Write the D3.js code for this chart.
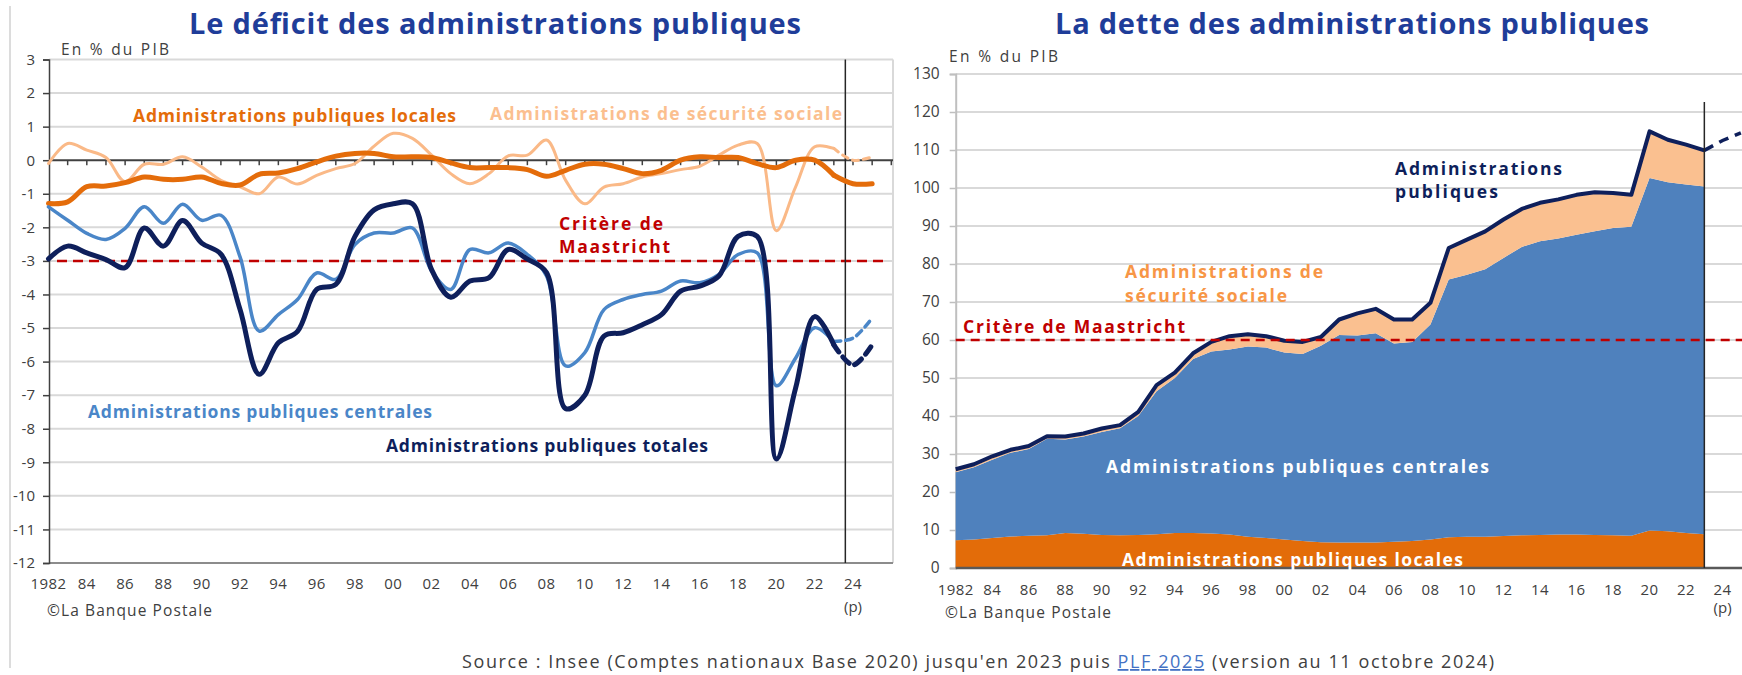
<!DOCTYPE html>
<html><head><meta charset="utf-8">
<script src="https://cdn.jsdelivr.net/npm/d3@7"></script>
<style>
body{margin:0;background:#fff;}
text{font-family:'Open Sans',sans-serif;}
</style>
</head><body>
<svg id="c" width="1742" height="675"></svg>
<script>
// ---------- DATA ----------
const years = d3.range(1982, 2024); // 1982..2023
const deficitTotal = [-2.94,-2.56,-2.76,-2.96,-3.2,-2.02,-2.56,-1.8,-2.47,-2.8,-4.45,-6.38,-5.44,-5.1,-3.85,-3.7,-2.27,-1.48,-1.3,-1.3,-3.26,-4.08,-3.6,-3.5,-2.66,-2.95,-3.35,-7.4,-7.0,-5.24,-5.14,-4.9,-4.6,-3.9,-3.75,-3.45,-2.27,-2.27,-8.9,-6.8,-4.66,-5.5];
const deficitCentrales = [-1.39,-1.79,-2.18,-2.36,-2.03,-1.39,-1.88,-1.31,-1.79,-1.64,-2.88,-5.09,-4.6,-4.15,-3.36,-3.55,-2.51,-2.17,-2.17,-2.02,-3.3,-3.85,-2.66,-2.76,-2.47,-2.81,-3.45,-6.13,-5.73,-4.45,-4.15,-4.0,-3.9,-3.6,-3.65,-3.4,-2.81,-2.76,-6.72,-5.9,-4.99,-5.4];
const deficitLocales = [-1.29,-1.24,-0.79,-0.77,-0.67,-0.5,-0.57,-0.57,-0.5,-0.69,-0.74,-0.42,-0.38,-0.25,-0.05,0.12,0.2,0.2,0.1,0.1,0.08,-0.08,-0.22,-0.22,-0.22,-0.28,-0.48,-0.3,-0.12,-0.12,-0.25,-0.4,-0.3,0.0,0.1,0.08,0.08,-0.1,-0.22,0.0,0.0,-0.45];
const deficitSecu = [-0.1,0.5,0.3,0.08,-0.64,-0.12,-0.12,0.1,-0.2,-0.6,-0.79,-1.0,-0.5,-0.71,-0.45,-0.25,-0.1,0.42,0.8,0.65,0.15,-0.4,-0.7,-0.4,0.13,0.15,0.6,-0.6,-1.3,-0.8,-0.7,-0.5,-0.4,-0.28,-0.18,0.15,0.45,0.5,-2.1,-0.8,0.4,0.35];

const projYears = [2023, 2024, 2025];
const projDeficitTotal = [-5.5, -6.1, -5.5];
const projDeficitCentrales = [-5.4, -5.3, -4.7];
const projDeficitLocales = [-0.45, -0.7, -0.7];
const projDeficitSecu = [0.35, 0.0, 0.1];

const detteLocales = [7.3,7.5,7.9,8.3,8.5,8.6,9.2,9.0,8.7,8.6,8.7,8.9,9.2,9.2,9.1,8.8,8.2,7.9,7.5,7.1,6.8,6.7,6.7,6.7,6.9,7.1,7.5,8.1,8.2,8.2,8.4,8.6,8.7,8.8,8.8,8.7,8.6,8.5,9.9,9.7,9.2,8.9];
const detteCentrales = [17.9,19.0,20.6,22.0,22.8,25.4,24.6,25.6,27.1,28.2,31.3,37.6,40.8,45.8,47.9,48.7,50.1,50.1,49.2,49.2,51.7,54.6,54.5,55.1,52.2,52.4,56.6,67.8,69.0,70.4,73.2,75.9,77.3,77.9,78.9,79.9,80.9,81.3,92.7,91.8,91.7,91.5];
const detteSecu = [0.8,0.8,0.9,0.8,0.8,0.7,0.8,0.8,0.9,0.8,1.1,1.6,1.4,1.5,2.5,3.5,3.2,3.0,3.1,3.2,2.3,4.1,5.8,6.4,6.3,5.9,5.7,8.3,9.2,10.0,10.1,10.0,10.1,10.3,10.5,10.3,9.2,8.4,12.3,11.2,10.5,9.5];
const projDetteTotal = [109.9, 112.5, 114.5];

const deficitTicks = d3.range(-12, 4, 1);
const detteTicks = d3.range(0, 131, 10);
const xTickYears = d3.range(1982, 2025, 2);
const xTickLabels = ["1982","84","86","88","90","92","94","96","98","00","02","04","06","08","10","12","14","16","18","20","22","24"];
const maastrichtDeficit = -3;
const maastrichtDette = 60;

// ---------- COLORS ----------
const C = {navy:"#0e1f5b", blue:"#4a86c8", orange:"#e46c0a", light:"#fab987",
  areaBlue:"#4f81bd", areaOrange:"#e36c09", areaLight:"#fac090", red:"#c00000",
  title:"#1f3d99", grid:"#d9d9d9", text:"#404040"};

const svg = d3.select("#c");

function fit(sel, w){ return sel.attr("textLength", w).attr("lengthAdjust","spacing"); }

svg.append("line").attr("x1",10).attr("x2",10).attr("y1",6).attr("y2",668)
  .attr("stroke","#d0d0d0").attr("stroke-width",1.5);

// ================= LEFT CHART =================
{
  const g = svg.append("g");
  const x = d3.scaleLinear().domain([1982, 2024]).range([48.5, 853]);
  const y = d3.scaleLinear().domain([-12, 3]).range([563, 59.5]);
  const xL = 49, xR = 893;

  fit(g.append("text").attr("x", 189).attr("y", 34)
    .attr("font-size",29).attr("font-weight",700).attr("fill",C.title)
    .text("Le déficit des administrations publiques"), 612);
  fit(g.append("text").attr("x",61).attr("y",55).attr("font-size",15.5).attr("fill",C.text).text("En % du PIB"), 108);

  g.selectAll(".gl").data(deficitTicks.filter(d=>d!==0 && d!==-12)).join("line")
    .attr("x1",xL).attr("x2",xR).attr("y1",d=>y(d)).attr("y2",d=>y(d))
    .attr("stroke",C.grid).attr("stroke-width",2);
  g.append("line").attr("x1",xR).attr("x2",xR).attr("y1",y(3)).attr("y2",y(-12))
    .attr("stroke",C.grid).attr("stroke-width",2);
  g.append("line").attr("x1",xL).attr("x2",xR).attr("y1",y(-12)).attr("y2",y(-12))
    .attr("stroke","#8c8c8c").attr("stroke-width",2);
  const ya = d3.axisLeft(y).tickValues(deficitTicks).tickSize(6).tickFormat(d=>String(d));
  const yag = g.append("g").attr("transform",`translate(${xL},0)`).call(ya);
  yag.select(".domain").attr("stroke","#404040").attr("stroke-width",1.5);
  yag.selectAll(".tick line").attr("stroke","#404040").attr("stroke-width",1.5);
  yag.selectAll(".tick text").attr("font-size",15).attr("fill",C.text)
    .attr("font-family","'Open Sans',sans-serif").attr("x",-14);

  g.append("line").attr("x1",xL).attr("x2",xR).attr("y1",y(0)).attr("y2",y(0))
    .attr("stroke","#404040").attr("stroke-width",2);
  g.selectAll(".zt").data(d3.range(1983, 2027)).join("line")
    .attr("x1",d=>x(d)).attr("x2",d=>x(d)).attr("y1",y(0)).attr("y2",y(0)+5)
    .attr("stroke","#404040").attr("stroke-width",1.5);

  g.selectAll(".xl").data(xTickYears).join("text")
    .attr("x",d=>x(d)).attr("y",589).attr("text-anchor","middle")
    .attr("font-size",15).attr("letter-spacing",0.4).attr("fill",C.text).text((d,i)=>xTickLabels[i]);
  g.append("text").attr("x",x(2024)).attr("y",612).attr("text-anchor","middle")
    .attr("font-size",15).attr("fill",C.text).text("(p)");
  fit(g.append("text").attr("x",47).attr("y",616).attr("font-size",15.5).attr("fill",C.text).text("©La Banque Postale"), 165);

  g.append("line").attr("x1",57).attr("x2",886).attr("y1",y(maastrichtDeficit)).attr("y2",y(maastrichtDeficit))
    .attr("stroke",C.red).attr("stroke-width",2.5).attr("stroke-dasharray","10,6");

  g.append("line").attr("x1",x(2023.6)).attr("x2",x(2023.6)).attr("y1",y(3)).attr("y2",y(-12))
    .attr("stroke","#262626").attr("stroke-width",1.5);

  const line = d3.line().x(d=>x(d[0])).y(d=>y(d[1])).curve(d3.curveCatmullRom.alpha(0.5));
  const series = [
    {v:deficitSecu, p:projDeficitSecu, c:C.light, w:3, pd:"6,5"},
    {v:deficitLocales, p:projDeficitLocales, c:C.orange, w:5, pd:null},
    {v:deficitCentrales, p:projDeficitCentrales, c:C.blue, w:3.5, pd:"7,5"},
    {v:deficitTotal, p:projDeficitTotal, c:C.navy, w:5, pd:"9,6"}
  ];
  series.forEach(s=>{
    g.append("path").datum(years.map((yr,i)=>[yr,s.v[i]])).attr("d",line)
      .attr("fill","none").attr("stroke",s.c).attr("stroke-width",s.w)
      .attr("stroke-linejoin","round").attr("stroke-linecap","round");
    g.append("path").datum(projYears.map((yr,i)=>[yr,s.p[i]])).attr("d",line)
      .attr("fill","none").attr("stroke",s.c).attr("stroke-width",s.w)
      .attr("stroke-dasharray",s.pd).attr("stroke-linecap","round");
  });

  const lab = (t,x0,y0,c,w)=>fit(g.append("text").attr("x",x0).attr("y",y0).attr("font-size",17.5)
    .attr("font-weight",700).attr("fill",c).text(t), w);
  lab("Administrations publiques locales",133,122,C.orange,323);
  lab("Administrations de sécurité sociale",490,120,"#fbbf8f",352);
  lab("Critère de",559,230,C.red,104);
  lab("Maastricht",559,253,C.red,111);
  lab("Administrations publiques centrales",88,418,C.blue,344);
  lab("Administrations publiques totales",386,452,C.navy,322);
}

// ================= RIGHT CHART =================
{
  const g = svg.append("g");
  const x = d3.scaleLinear().domain([1982, 2024]).range([955.7, 1722.6]);
  const y = d3.scaleLinear().domain([0, 130]).range([568, 74]);
  const xL = 955.7, xR = 1742;

  fit(g.append("text").attr("x", 1055).attr("y", 34)
    .attr("font-size",29).attr("font-weight",700).attr("fill",C.title)
    .text("La dette des administrations publiques"), 594);
  fit(g.append("text").attr("x",949).attr("y",62).attr("font-size",15.5).attr("fill",C.text).text("En % du PIB"), 109);

  g.selectAll(".gl").data(detteTicks.filter(d=>d>0)).join("line")
    .attr("x1",xL).attr("x2",xR).attr("y1",d=>y(d)).attr("y2",d=>y(d))
    .attr("stroke",C.grid).attr("stroke-width",2);

  const ya = d3.axisLeft(y).tickValues(detteTicks).tickSize(6);
  const yag = g.append("g").attr("transform",`translate(${xL},0)`).call(ya);
  yag.select(".domain").attr("stroke","#bfbfbf").attr("stroke-width",2);
  yag.selectAll(".tick line").attr("stroke","#bfbfbf").attr("stroke-width",1.5);
  yag.selectAll(".tick text").attr("font-size",15.5).attr("fill",C.text)
    .attr("font-family","'Open Sans',sans-serif").attr("x",-16);

  const rows = years.map((yr,i)=>({year:yr, loc:detteLocales[i], cen:detteCentrales[i], sec:detteSecu[i]}));
  const stack = d3.stack().keys(["loc","cen","sec"])(rows);
  const area = d3.area().x(d=>x(d.data.year)).y0(d=>y(d[0])).y1(d=>y(d[1]));
  const fills = [C.areaOrange, C.areaBlue, C.areaLight];
  g.selectAll(".ar").data(stack).join("path").attr("d",area).attr("fill",(d,i)=>fills[i]);

  const line = d3.line().x(d=>x(d[0])).y(d=>y(d[1]));
  g.append("path").datum(stack[2].map(d=>[d.data.year, d[1]])).attr("d",line)
    .attr("fill","none").attr("stroke",C.navy).attr("stroke-width",4).attr("stroke-linejoin","round");
  g.append("path").datum(projYears.map((yr,i)=>[yr,projDetteTotal[i]])).attr("d",line)
    .attr("fill","none").attr("stroke",C.navy).attr("stroke-width",3.5).attr("stroke-dasharray","10,7");

  g.append("line").attr("x1",xL).attr("x2",xR).attr("y1",y(maastrichtDette)).attr("y2",y(maastrichtDette))
    .attr("stroke",C.red).attr("stroke-width",2.5).attr("stroke-dasharray","9,6");

  g.append("line").attr("x1",xL).attr("x2",xR).attr("y1",y(0)).attr("y2",y(0))
    .attr("stroke","#595959").attr("stroke-width",2.5);

  g.append("line").attr("x1",x(2023)).attr("x2",x(2023)).attr("y1",y(122.6)).attr("y2",y(0))
    .attr("stroke","#262626").attr("stroke-width",1.5);

  g.selectAll(".xl").data(xTickYears).join("text")
    .attr("x",d=>x(d)).attr("y",595).attr("text-anchor","middle")
    .attr("font-size",15).attr("letter-spacing",0.4).attr("fill",C.text).text((d,i)=>xTickLabels[i]);
  g.append("text").attr("x",x(2024)).attr("y",613).attr("text-anchor","middle")
    .attr("font-size",15).attr("fill",C.text).text("(p)");
  fit(g.append("text").attr("x",945).attr("y",618).attr("font-size",15.5).attr("fill",C.text).text("©La Banque Postale"), 166);

  const lab = (t,x0,y0,c,w)=>fit(g.append("text").attr("x",x0).attr("y",y0).attr("font-size",17.5)
    .attr("font-weight",700).attr("fill",c).text(t), w);
  lab("Administrations",1395,175,C.navy,167);
  lab("publiques",1395,198,C.navy,103);
  lab("Administrations de",1125,278,"#f79646",198);
  lab("sécurité sociale",1125,302,"#f79646",162);
  lab("Critère de Maastricht",963,333,C.red,222);
  lab("Administrations publiques centrales",1106,473,"#ffffff",383);
  lab("Administrations publiques locales",1122,566,"#ffffff",341);
}

// ---------- SOURCE ----------
const src = svg.append("text").attr("x",462).attr("y",668).attr("font-size",18).attr("fill",C.text)
  .attr("textLength",1032).attr("lengthAdjust","spacing");
src.append("tspan").text("Source : Insee (Comptes nationaux Base 2020) jusqu'en 2023 puis ");
src.append("tspan").attr("fill","#4472c4").attr("text-decoration","underline").text("PLF 2025");
src.append("tspan").text(" (version au 11 octobre 2024)");
</script>
</body></html>
